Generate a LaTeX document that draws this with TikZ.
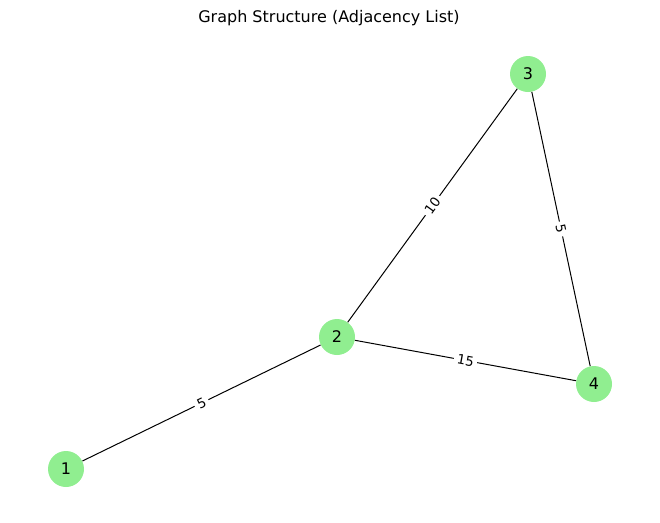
\documentclass[tikz,border=0pt]{standalone}
\usepackage{fontspec}
\setmainfont{DejaVu Sans}
\usetikzlibrary{positioning}

\begin{document}
\begin{tikzpicture}[
    x=0.75pt, y=-0.75pt,
    vertex/.style={
        circle,
        fill={rgb,255:red,144;green,238;blue,144},
        minimum size=27pt,
        inner sep=0pt,
        font=\fontsize{12}{14}\selectfont
    },
    weight/.style={
        fill=white,
        inner sep=2.5pt,
        sloped,
        font=\fontsize{10}{12}\selectfont
    },
    edge/.style={draw=black, line width=0.75pt}
]
\useasboundingbox (0,0) rectangle (660,522);

\node[font=\fontsize{12}{14}\selectfont] (title) at (329,18) {Graph Structure (Adjacency List)};

\node[vertex] (n1) at (66,469) {1};
\node[vertex] (n2) at (337,337) {2};
\node[vertex] (n3) at (528,74) {3};
\node[vertex] (n4) at (594,384) {4};

\draw[edge] (n1) -- node[weight] {5} (n2);
\draw[edge] (n2) -- node[weight] {10} (n3);
\draw[edge] (n2) -- node[weight] {15} (n4);
\draw[edge] (n3) -- node[weight] {5} (n4);
\end{tikzpicture}
\end{document}
